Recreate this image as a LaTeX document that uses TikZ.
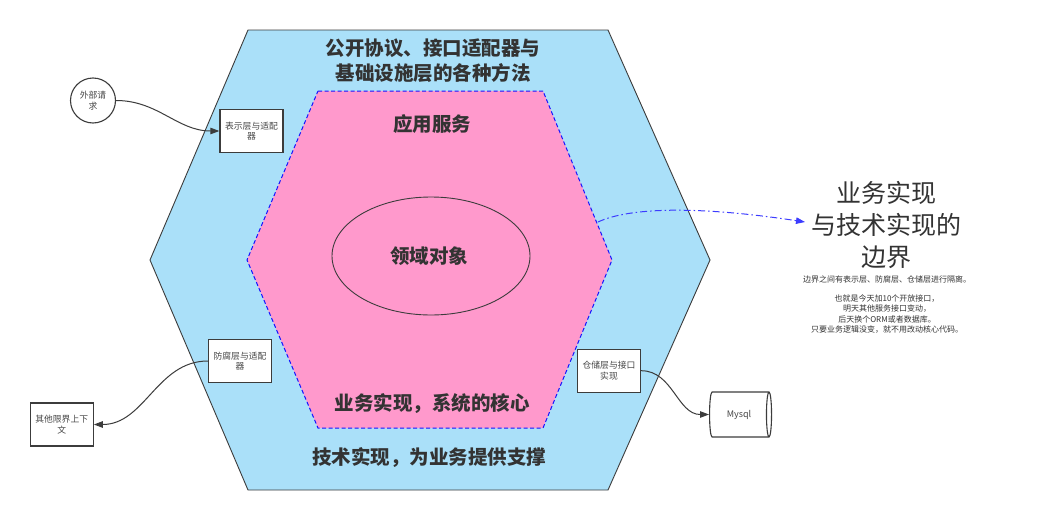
\documentclass[tikz,border=0pt]{standalone}
\usepackage{fontspec}
\setmainfont{Noto Sans CJK SC}
\usetikzlibrary{arrows.meta,shapes.geometric}
\definecolor{outerblue}{RGB}{170,224,249}
\definecolor{innerpink}{RGB}{255,153,204}
\definecolor{txt}{RGB}{51,51,51}
\definecolor{boxtxt}{RGB}{70,70,70}
\definecolor{edge}{RGB}{60,60,60}
\definecolor{dashblue}{RGB}{20,20,255}
\definecolor{linkblue}{RGB}{60,60,255}
\begin{document}
\begin{tikzpicture}[x=1pt,y=1pt,
  box/.style={draw=edge, line width=1.3pt, fill=white, minimum width=63pt, minimum height=43pt, inner sep=1pt, align=center, font=\fontsize{8.8}{10.5}\selectfont, text=boxtxt},
  hexlabel/.style={font=\fontsize{19.5}{25}\bfseries\selectfont, text=txt, align=center, inner sep=0pt},
  conn/.style={draw=edge, line width=1pt, -{Triangle[length=9pt,width=6.5pt]}},
]
\useasboundingbox (0,0) rectangle (1056,-530);
\fill[white] (0,0) rectangle (1056,-530);

% outer hexagon
\draw[fill=outerblue, draw=edge, line width=0.9pt]
  (248,-30) -- (608,-30) -- (710,-260) -- (608,-490) -- (248,-490) -- (150,-260) -- cycle;
% inner hexagon
\draw[fill=innerpink, draw=dashblue, line width=1pt, dash pattern=on 4pt off 2.5pt]
  (318,-91) -- (543,-91) -- (612,-260) -- (543,-428) -- (318,-428) -- (247,-260) -- cycle;
% ellipse
\node[ellipse, draw=edge, line width=0.9pt, minimum width=198pt, minimum height=118pt, inner sep=0pt] (dom) at (431,-256) {};

% hexagon labels
\node[hexlabel] (outtitle) at (433,-60.5) {公开协议、接口适配器与\\基础设施层的各种方法};
\node[hexlabel] (app) at (432,-124) {应用服务};
\node[hexlabel] (domtxt) at (429,-256) {领域对象};
\node[hexlabel] (core) at (432,-404) {业务实现，系统的核心};
\node[hexlabel] (tech) at (429,-458) {技术实现，为业务提供支撑};

% side nodes
\node[circle, draw=edge, line width=1.1pt, fill=white, minimum size=45pt, inner sep=0pt, align=center, font=\fontsize{8.8}{10.5}\selectfont, text=boxtxt] (req) at (93,-100.5) {外部请\\求};
\node[box] (pres) at (251.5,-131) {表示层与适配\\器};
\node[box] (acl) at (240,-361) {防腐层与适配\\器};
\node[box] (other) at (61.7,-424.5) {其他限界上下\\文};
\node[box] (repo) at (609,-370.7) {仓储层与接口\\实现};
\node[cylinder, shape border rotate=0, draw=edge, line width=1.1pt, fill=white, aspect=0.55, minimum width=45pt, minimum height=62pt, inner sep=0pt, font=\fontsize{9}{10}\selectfont, text=boxtxt] (mysql) at (739,-414.5) {Mysql};

% connectors
\draw[conn] (req.east) to[out=0, in=180] (pres.west);
\draw[conn] (acl.west) to[out=180, in=0] (other.east);
\draw[conn] (repo.east) to[out=0, in=180] (mysql.west);

% boundary arrow
\coordinate (bstart) at (598,-222);
\coordinate (bend) at (805,-222);
\draw[draw=linkblue, line width=1pt, dash pattern=on 7pt off 3pt on 1.5pt off 3pt, -{Triangle[length=9pt,width=6.5pt]}]
  (bstart) .. controls (630,-207) and (700,-206) .. (bend);

% right text
\node[font=\fontsize{25}{32}\selectfont, text=txt, align=center, inner sep=0pt] (bigtxt) at (886,-224.5) {业务实现\\与技术实现的\\边界};
\node[font=\fontsize{8}{10.6}\selectfont, text=txt, align=center, inner sep=0pt] (small1) at (887,-279) {边界之间有表示层、防腐层、仓储层进行隔离。};
\node[font=\fontsize{8}{10.6}\selectfont, text=txt, align=center, inner sep=0pt] (small2) at (887,-314) {也就是今天加10个开放接口，\\明天其他服务接口变动，\\后天换个ORM或者数据库。\\只要业务逻辑没变，就不用改动核心代码。};
\end{tikzpicture}
\end{document}
